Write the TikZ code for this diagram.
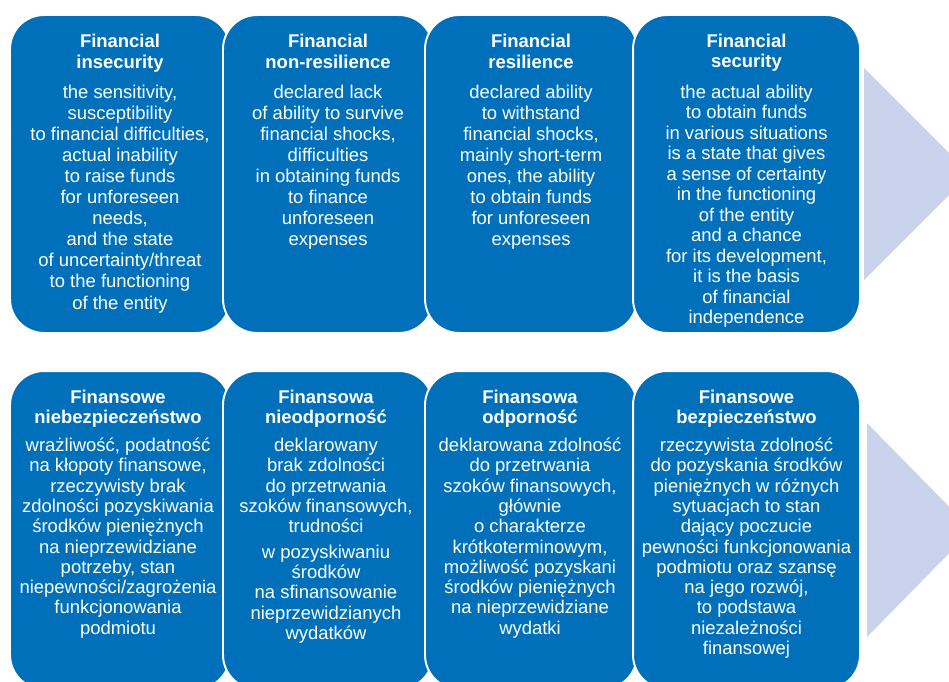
\documentclass[tikz,border=0pt]{standalone}
\usepackage{fontspec}
\setmainfont{Liberation Sans}
\usepackage{xcolor}
\usepackage{tikz}
\definecolor{boxblue}{RGB}{0,112,186}
\definecolor{arrowblue}{RGB}{201,212,236}

\begin{document}
\begin{tikzpicture}[x=0.02cm,y=-0.02cm,
  box/.style={fill=boxblue,draw=white,line width=1.1pt,rounded corners=0.68cm,
              minimum height=6.36cm,inner sep=0pt},
  toptxt/.style={text=white,align=center,anchor=north,inner sep=0pt,
                 font=\fontsize{10.5}{12}\selectfont},
  bottxt/.style={toptxt,font=\fontsize{10.5}{11.55}\selectfont}]
  \clip (0,0) rectangle (949,682);
  \fill[white] (0,0) rectangle (949,682);

  % arrows on the right
  \fill[arrowblue] (864,68)  -- (970,174) -- (864,280) -- cycle;
  \fill[arrowblue] (867,423) -- (972,530) -- (867,637) -- cycle;

  % English row
  \node[box,minimum width=4.40cm] (insec)  at (120,174)   {};
  \node[box,minimum width=4.20cm] (nonres) at (328,174)   {};
  \node[box,minimum width=4.24cm] (resil)  at (531,174)   {};
  \node[box,minimum width=4.54cm] (secur)  at (746.5,174) {};

  \node[toptxt] (insec-t) at (120,33.5) {\textbf{Financial}\\\textbf{insecurity}\\[5pt]
    the sensitivity,\\susceptibility\\to financial difficulties,\\actual inability\\to raise funds\\
    for unforeseen\\needs,\\and the state\\of uncertainty/threat\\to the functioning\\of the entity};
  \node[toptxt] (nonres-t) at (328,33.5) {\textbf{Financial}\\\textbf{non-resilience}\\[5pt]
    declared lack\\of ability to survive\\financial shocks,\\difficulties\\in obtaining funds\\
    to finance\\unforeseen\\expenses};
  \node[toptxt] (resil-t) at (531,33.5) {\textbf{Financial}\\\textbf{resilience}\\[5pt]
    declared ability\\to withstand\\financial shocks,\\mainly short-term\\ones, the ability\\
    to obtain funds\\for unforeseen\\expenses};
  \node[toptxt,font=\fontsize{10.5}{11.67}\selectfont] (secur-t) at (746.5,33.5)
    {\textbf{Financial}\\\textbf{security}\\[5.8pt]
    the actual ability\\to obtain funds\\in various situations\\is a state that gives\\
    a sense of certainty\\in the functioning\\of the entity\\and a chance\\for its development,\\
    it is the basis\\of financial\\independence};

  % Polish row
  \node[box,minimum width=4.40cm] (niebezp) at (120,530)   {};
  \node[box,minimum width=4.20cm] (nieodp)  at (328,530)   {};
  \node[box,minimum width=4.24cm] (odp)     at (531,530)   {};
  \node[box,minimum width=4.54cm] (bezp)    at (746.5,530) {};

  \node[bottxt] (niebezp-t) at (118,389.5) {\textbf{Finansowe}\\\textbf{niebezpieczeństwo}\\[4.4pt]
    wrażliwość, podatność\\na kłopoty finansowe,\\rzeczywisty brak\\zdolności pozyskiwania\\
    środków pieniężnych\\na nieprzewidziane\\potrzeby, stan\\niepewności/zagrożenia\\
    funkcjonowania\\podmiotu};
  \node[bottxt] (nieodp-t) at (326,389.5) {\textbf{Finansowa}\\\textbf{nieodporność}\\[4.4pt]
    deklarowany\\brak zdolności\\do przetrwania\\szoków finansowych,\\trudności\\[3pt]
    w pozyskiwaniu\\środków\\na sfinansowanie\\nieprzewidzianych\\wydatków};
  \node[bottxt] (odp-t) at (530,389.5) {\textbf{Finansowa}\\\textbf{odporność}\\[4.4pt]
    deklarowana zdolność\\do przetrwania\\szoków finansowych,\\głównie\\o charakterze\\
    krótkoterminowym,\\możliwość pozyskani\\środków pieniężnych\\na nieprzewidziane\\wydatki};
  \node[bottxt] (bezp-t) at (746.5,389.5) {\textbf{Finansowe}\\\textbf{bezpieczeństwo}\\[4.4pt]
    rzeczywista zdolność\\do pozyskania środków\\pieniężnych w różnych\\sytuacjach to stan\\
    dający poczucie\\pewności funkcjonowania\\podmiotu oraz szansę\\na jego rozwój,\\
    to podstawa\\niezależności\\finansowej};
\end{tikzpicture}
\end{document}
